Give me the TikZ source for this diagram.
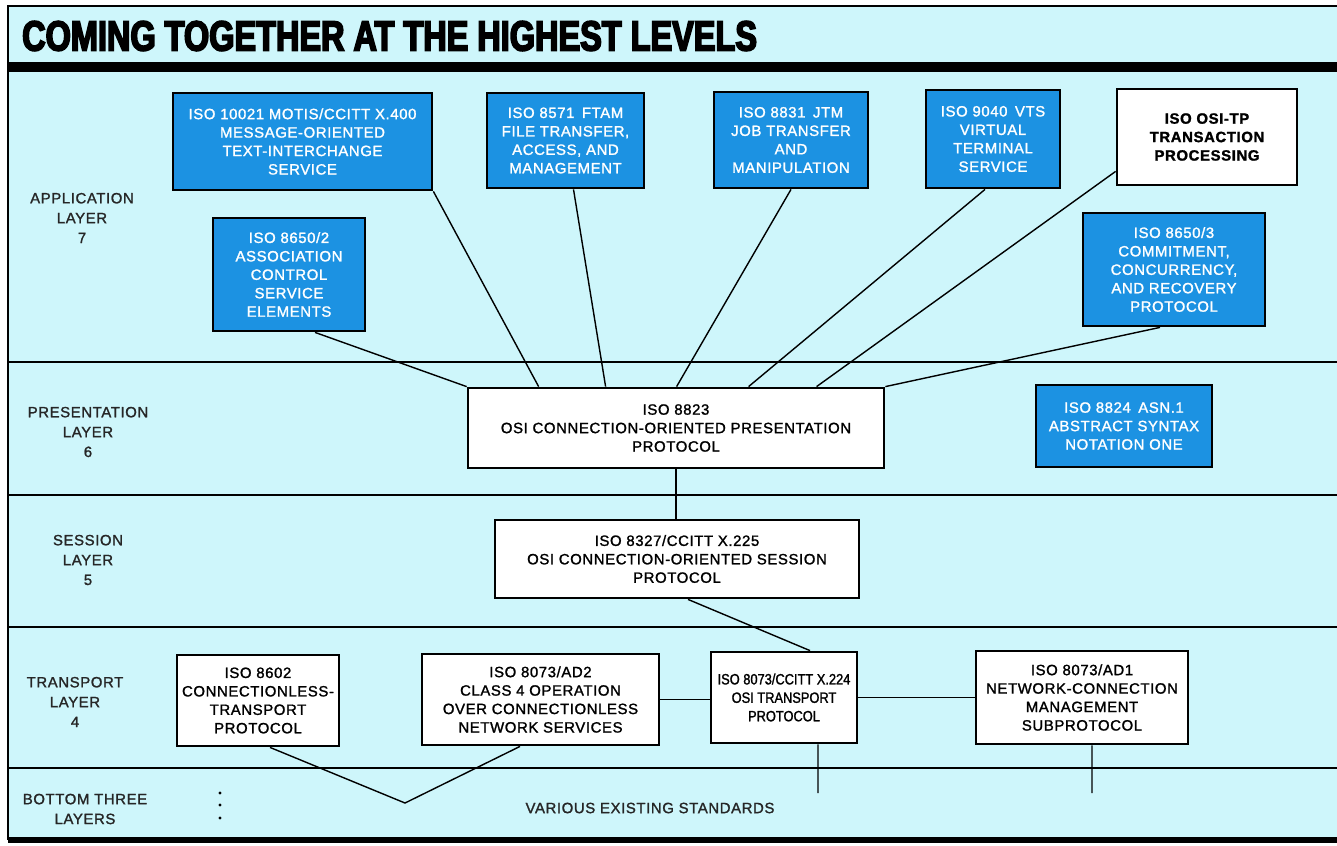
\documentclass[tikz,border=0pt]{standalone}
\usepackage{fontspec}
\setmainfont{Liberation Sans}
\newfontfamily\stdfont{Liberation Sans}[LetterSpace=4,FakeBold=1.4]
\newfontfamily\narrowfont{Liberation Sans}[FakeStretch=0.86,FakeBold=1.4]
\newfontfamily\titlefont{Liberation Sans Bold}[FakeStretch=0.77,FakeBold=4]
\usetikzlibrary{positioning}
\definecolor{layerbg}{RGB}{206,246,251}
\definecolor{stdblue}{RGB}{28,146,226}

\begin{document}
\begin{tikzpicture}[x=0.02cm,y=-0.02cm]

	\tikzset{
		bluestd/.style={
				rectangle, draw=black, fill=stdblue, line width=1.6pt, text=white, align=center, inner sep=2pt,
				font=\stdfont\fontsize{8.5}{10.5}\selectfont
			},
		whitestd/.style={
				bluestd, fill=white, text=black
			},
		layer/.style={
				align=center, text=black!85, font=\stdfont\fontsize{8.5}{11.3}\selectfont
			},
		link/.style={line width=0.8pt},
		divider/.style={line width=1.1pt},
	}

	\useasboundingbox (0,0) rectangle (1337,845);
	\fill[layerbg] (8,6) rectangle (1337,840);
	\fill[black] (8,62) rectangle (1337,72);
	\draw[line width=1pt] (1337,6) -- (8,6) -- (8,840);
	\draw[line width=3pt] (8,840) -- (1337,840);
	\draw[divider] (8,362) -- (1337,362);
	\draw[divider] (8,495) -- (1337,495);
	\draw[divider] (8,627) -- (1337,627);
	\draw[divider] (8,768) -- (1337,768);

	\node[anchor=west, font=\titlefont\fontsize{24}{24}\selectfont](title) at (16,36) {COMING TOGETHER AT THE HIGHEST LEVELS};

	% layer names
	\node[layer](l7) at (82,218) {APPLICATION\\LAYER\\7};
	\node[layer](l6) at (88,432) {PRESENTATION\\LAYER\\6};
	\node[layer](l5) at (88,560) {SESSION\\LAYER\\5};
	\node[layer](l4) at (75,702) {TRANSPORT\\LAYER\\4};
	\node[layer](l1) at (85,809) {BOTTOM THREE\\LAYERS};
	\foreach \y in {793,805,818} {
			\fill (220,\y) circle (1.6);
		}

	% application layer
	\node[bluestd, minimum width=5.18cm, minimum height=1.94cm](motis) at (302.5,141.5) {ISO 10021 MOTIS/CCITT X.400\\MESSAGE-ORIENTED\\TEXT-INTERCHANGE\\SERVICE};
	\node[bluestd, minimum width=3.14cm, minimum height=1.9cm](ftam) at (565.5,140.5) {ISO 8571\enspace FTAM\\FILE TRANSFER,\\ACCESS, AND\\MANAGEMENT};
	\node[bluestd, minimum width=3.08cm, minimum height=1.92cm](jtm) at (791,140) {ISO 8831\enspace JTM\\JOB TRANSFER\\AND\\MANIPULATION};
	\node[bluestd, minimum width=2.68cm, minimum height=1.96cm](vts) at (993,139) {ISO 9040\enspace VTS\\VIRTUAL\\TERMINAL\\SERVICE};
	\node[whitestd, minimum width=3.6cm, minimum height=1.92cm](ositp) at (1207,137) {\bfseries ISO OSI-TP\\\bfseries TRANSACTION\\\bfseries PROCESSING};
	\node[bluestd, minimum width=3.04cm, minimum height=2.26cm](acse) at (289,274.5) {ISO 8650/2\\ASSOCIATION\\CONTROL\\SERVICE\\ELEMENTS};
	\node[bluestd, minimum width=3.64cm, minimum height=2.26cm](ccr) at (1174,269.5) {ISO 8650/3\\COMMITMENT,\\CONCURRENCY,\\AND RECOVERY\\PROTOCOL};

	% presentation and session layers
	\node[whitestd, minimum width=8.32cm, minimum height=1.6cm](pres) at (676,428) {ISO 8823\\OSI CONNECTION-ORIENTED PRESENTATION\\PROTOCOL};
	\node[bluestd, minimum width=3.52cm, minimum height=1.64cm](asn) at (1124,426) {ISO 8824\enspace ASN.1\\ABSTRACT SYNTAX\\NOTATION ONE};
	\node[whitestd, minimum width=7.28cm, minimum height=1.56cm](sess) at (677,559) {ISO 8327/CCITT X.225\\OSI CONNECTION-ORIENTED SESSION\\PROTOCOL};

	% transport layer
	\node[whitestd, minimum width=3.24cm, minimum height=1.82cm](clt) at (258,700.5) {ISO 8602\\CONNECTIONLESS-\\TRANSPORT\\PROTOCOL};
	\node[whitestd, minimum width=4.74cm, minimum height=1.82cm](adtwo) at (540.5,699.5) {ISO 8073/AD2\\CLASS 4 OPERATION\\OVER CONNECTIONLESS\\NETWORK SERVICES};
	\node[whitestd, minimum width=2.92cm, minimum height=1.82cm, font=\narrowfont\fontsize{8.5}{10.5}\selectfont](tp) at (784,697.5) {ISO 8073/CCITT X.224\\OSI TRANSPORT\\PROTOCOL};
	\node[whitestd, minimum width=4.24cm, minimum height=1.86cm](adone) at (1082,697.5) {ISO 8073/AD1\\NETWORK-CONNECTION\\MANAGEMENT\\SUBPROTOCOL};

	\node[layer](various) at (650,808) {VARIOUS EXISTING STANDARDS};
	\coordinate (vjoin) at (405,803);
	\coordinate (tpend) at (818,793);
	\coordinate (adend) at (1092,793);

	\draw[link] (acse.south) ++(0.52cm,0) -- (pres.north west);
	\draw[link] (motis.south east) -- ([xshift=1.44cm]pres.north west);
	\draw[link] ([xshift=0.16cm]ftam.south) -- ([xshift=2.78cm]pres.north west);
	\draw[link] (jtm.south) -- ([xshift=4.2cm]pres.north west);
	\draw[link] ([xshift=-0.16cm]vts.south) -- ([xshift=5.64cm]pres.north west);
	\draw[link] ([yshift=0.3cm]ositp.south west) -- ([xshift=7cm]pres.north west);
	\draw[link] ([xshift=-0.28cm]ccr.south) -- (pres.north east);

	\draw[link] (pres.south) -- (pres.south |- sess.north);
	\draw[link] ([xshift=0.22cm]sess.south) -- ([xshift=0.52cm]tp.north);

	\draw[link] (adtwo.east) -- (adtwo.east -| tp.west);
	\draw[link] (tp.east) -- (tp.east -| adone.west);

	\draw[link] ([xshift=0.24cm]clt.south) -- (vjoin) -- ([xshift=-0.41cm]adtwo.south);
	\draw[link] ([xshift=0.68cm]tp.south) -- (tpend);
	\draw[link] ([xshift=0.2cm]adone.south) -- (adend);
\end{tikzpicture}
\end{document}
